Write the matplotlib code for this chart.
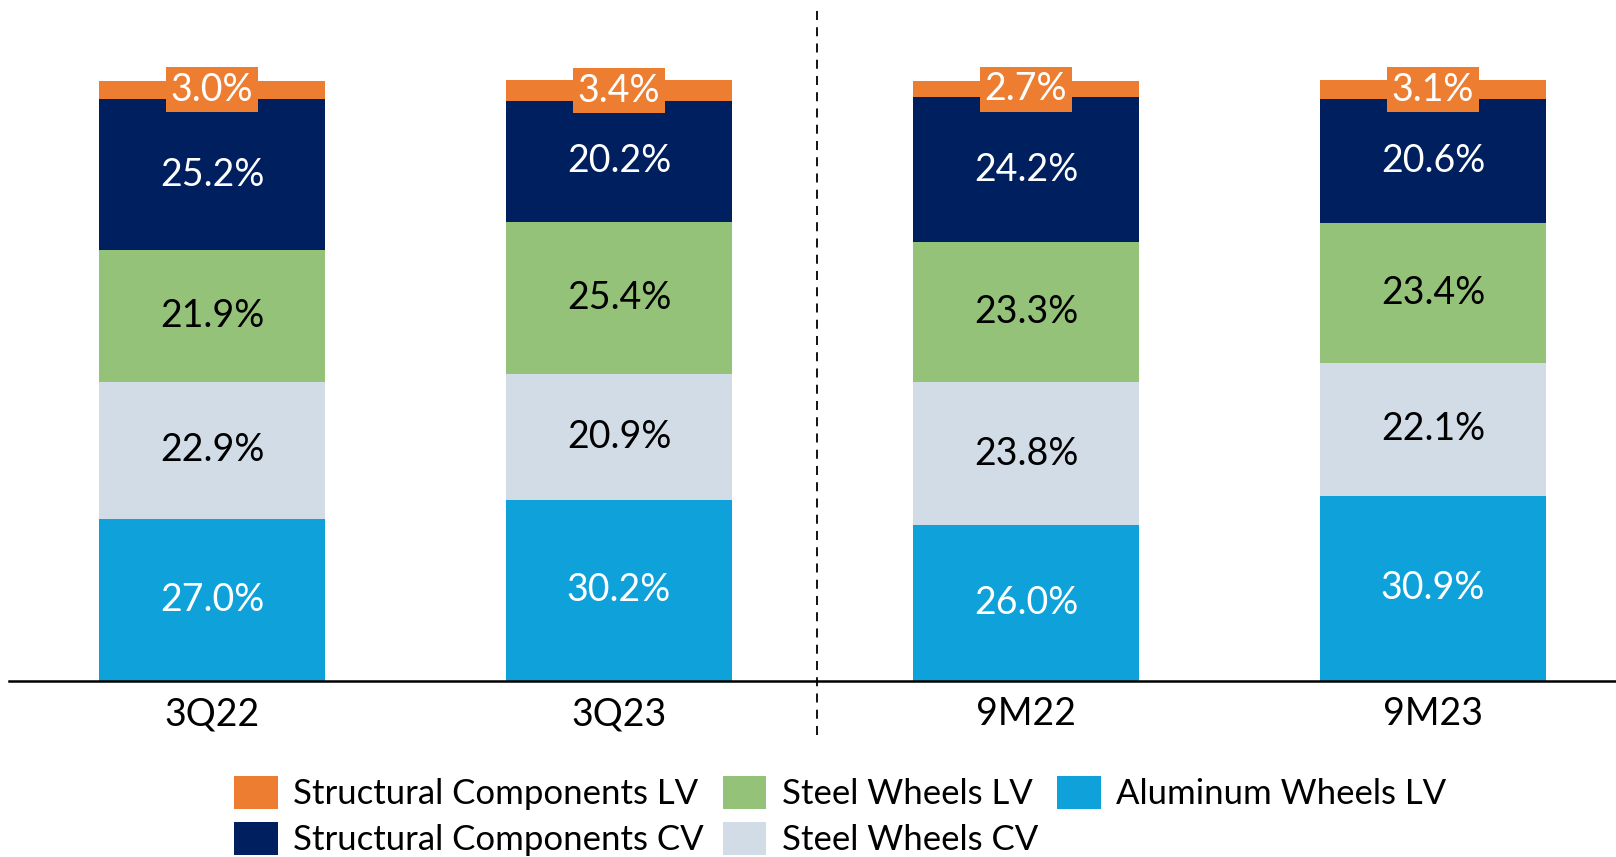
import matplotlib.pyplot as plt
import numpy as np

periods = ['3Q22', '3Q23', '9M22', '9M23']
alu_lv = [27.0, 30.2, 26.0, 30.9]
steel_cv = [22.9, 20.9, 23.8, 22.1]
steel_lv = [21.9, 25.4, 23.3, 23.4]
struct_cv = [25.2, 20.2, 24.2, 20.6]
struct_lv = [3.0, 3.4, 2.7, 3.1]

series = [
    ('Aluminum Wheels LV', alu_lv, '#0EA1DA', 'white'),
    ('Steel Wheels CV', steel_cv, '#D1DCE6', 'black'),
    ('Steel Wheels LV', steel_lv, '#94C279', 'black'),
    ('Structural Components CV', struct_cv, '#001F5F', 'white'),
    ('Structural Components LV', struct_lv, '#ED7D31', 'white'),
]

plt.rcParams['font.family'] = ['Lato', 'DejaVu Sans']

fig = plt.figure(figsize=(16.16, 8.57), dpi=100)
ax = fig.add_axes([9 / 1616, (857 - 681) / 857, 1607 / 1616, 681 / 857])

x = np.arange(len(periods))
bottom = np.zeros(len(periods))
handles = {}
for name, vals, col, tcol in series:
    vals = np.array(vals)
    b = ax.bar(x, vals, 0.555, bottom=bottom, color=col, label=name)
    handles[name] = b
    for xi, v, bt in zip(x, vals, bottom):
        if name == 'Structural Components LV':
            ax.text(xi, bt + v / 2, f'{v:.1f}%', ha='center', va='center',
                    color='white', fontsize=27,
                    bbox=dict(boxstyle='square,pad=0.12', fc=col, ec='none'))
        else:
            ax.text(xi, bt + v / 2, f'{v:.1f}%', ha='center', va='center',
                    color=tcol, fontsize=27)
    bottom += vals

ax.set_xlim(-0.499, 3.45)
ax.set_ylim(0, 113.5)
for s in ['top', 'right', 'left']:
    ax.spines[s].set_visible(False)
ax.spines['bottom'].set_linewidth(1.8)
ax.set_yticks([])
ax.set_xticks(x)
ax.set_xticklabels(periods, fontsize=27)
ax.tick_params(axis='x', length=0, pad=11)

ax.plot([1.487, 1.487], [-9, 111.8], color='black', lw=1.3, ls=(0, (5, 4)),
        clip_on=False)

order = ['Structural Components LV', 'Structural Components CV',
         'Steel Wheels LV', 'Steel Wheels CV', 'Aluminum Wheels LV']
fig.legend([handles[n] for n in order], order, ncol=3, frameon=False,
           fontsize=25, loc='upper left', bbox_to_anchor=(210 / 1616, 1 - 752 / 857),
           handlelength=1.25, handleheight=1.05, handletextpad=0.45,
           columnspacing=0.55, labelspacing=0.35, borderpad=0.2)

fig.savefig('out.png', dpi=100)
